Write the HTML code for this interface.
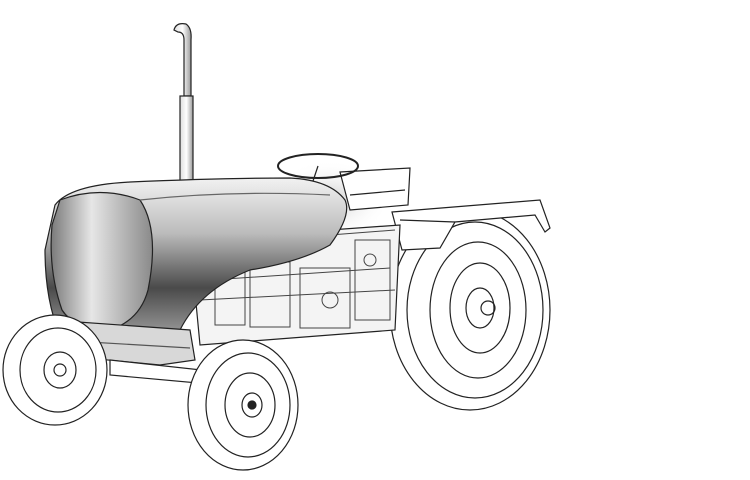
<!DOCTYPE html>
<html><head><meta charset="utf-8"><style>
html,body{margin:0;padding:0;background:#fff;width:750px;height:480px;overflow:hidden}
</style></head><body>
<svg width="750" height="480" viewBox="0 0 750 480" xmlns="http://www.w3.org/2000/svg">
<defs>
<linearGradient id="hood" x1="0" y1="0" x2="0" y2="1">
<stop offset="0" stop-color="#f2f2f2"/><stop offset="0.35" stop-color="#bcbcbc"/><stop offset="0.7" stop-color="#4a4a4a"/><stop offset="1" stop-color="#9a9a9a"/>
</linearGradient>
<linearGradient id="grille" x1="0" y1="0" x2="1" y2="0">
<stop offset="0" stop-color="#7a7a7a"/><stop offset="0.4" stop-color="#e6e6e6"/><stop offset="1" stop-color="#8a8a8a"/>
</linearGradient>
<linearGradient id="pipe" x1="0" y1="0" x2="1" y2="0">
<stop offset="0" stop-color="#ddd"/><stop offset="0.5" stop-color="#fff"/><stop offset="1" stop-color="#999"/>
</linearGradient>
<radialGradient id="shade" cx="0.5" cy="0.5" r="0.5">
<stop offset="0" stop-color="#ccc"/><stop offset="1" stop-color="#fff" stop-opacity="0"/>
</radialGradient>
</defs>
<g fill="none" stroke="#222" stroke-width="1.2">
<!-- background shadow -->
<ellipse cx="330" cy="200" rx="60" ry="40" fill="url(#shade)" stroke="none"/>
<!-- exhaust -->
<path d="M174 30 Q176 22 186 24 Q192 28 191 40 L191 96 L184 96 L184 40 Q184 32 178 32 Z" fill="url(#pipe)"/>
<rect x="180" y="96" width="13" height="86" fill="url(#pipe)"/>
<!-- rear wheel -->
<ellipse cx="470" cy="310" rx="80" ry="100" fill="#fff"/>
<ellipse cx="475" cy="310" rx="68" ry="88"/>
<ellipse cx="478" cy="310" rx="48" ry="68"/>
<ellipse cx="480" cy="308" rx="30" ry="45"/>
<ellipse cx="480" cy="308" rx="14" ry="20"/>
<circle cx="488" cy="308" r="7"/>
<!-- fender -->
<path d="M392 212 L540 200 L550 228 L545 232 L535 215 L455 222 L440 248 L402 250 Z" fill="#fff"/>
<path d="M400 220 L455 222"/>
<!-- seat -->
<path d="M340 172 L410 168 L408 205 L350 210 Z" fill="#fff"/>
<path d="M350 195 L405 190"/>
<!-- steering -->
<ellipse cx="318" cy="166" rx="40" ry="12" fill="none" stroke-width="2"/>
<path d="M318 166 L310 190"/>
<!-- engine block -->
<path d="M190 240 L400 225 L395 330 L200 345 Z" fill="#f4f4f4"/>
<g stroke="#444" stroke-width="1">
<rect x="215" y="265" width="30" height="60"/><rect x="250" y="262" width="40" height="65"/>
<rect x="300" y="268" width="50" height="60"/><rect x="355" y="240" width="35" height="80"/>
<path d="M200 300 L395 290 M210 280 L390 268 M330 235 L395 230"/>
<circle cx="330" cy="300" r="8"/><circle cx="370" cy="260" r="6"/>
</g>
<!-- hood -->
<path d="M55 205 Q70 185 130 182 Q220 178 290 178 Q330 180 345 200 Q352 215 330 245 Q300 262 250 270 Q200 290 180 330 L60 335 Q45 300 45 250 Z" fill="url(#hood)"/>
<path d="M60 200 Q100 185 140 200 Q160 230 148 290 Q140 320 110 330 Q75 330 62 310 Q48 270 52 225 Z" fill="url(#grille)"/>
<path d="M140 200 Q230 190 330 195" stroke="#666"/>
<!-- bumper -->
<path d="M50 320 L190 330 L195 360 L160 365 L55 355 Z" fill="#d8d8d8"/>
<path d="M55 340 L190 348" stroke="#555"/>
<!-- frame -->
<path d="M110 360 L220 372 L220 385 L110 375 Z" fill="#fff"/>
<!-- front left wheel -->
<ellipse cx="55" cy="370" rx="52" ry="55" fill="#fff"/>
<ellipse cx="58" cy="370" rx="38" ry="42"/>
<ellipse cx="60" cy="370" rx="16" ry="18"/>
<circle cx="60" cy="370" r="6"/>
<!-- front right wheel -->
<ellipse cx="243" cy="405" rx="55" ry="65" fill="#fff"/>
<ellipse cx="248" cy="405" rx="42" ry="52"/>
<ellipse cx="250" cy="405" rx="25" ry="32"/>
<ellipse cx="252" cy="405" rx="10" ry="12"/>
<circle cx="252" cy="405" r="4" fill="#222"/>
</g>
</svg>
</body></html>
